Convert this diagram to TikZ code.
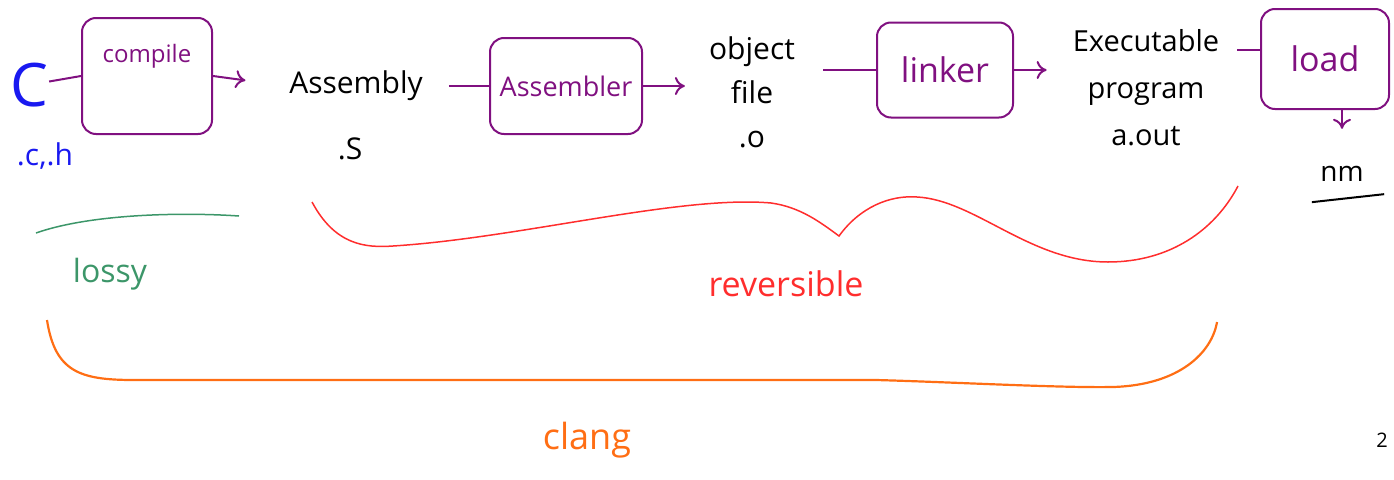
\documentclass[tikz,border=0pt]{standalone}
\usepackage{fontspec}
\setmainfont{Open Sans}
\usetikzlibrary{arrows.meta}

\definecolor{penblue}{RGB}{25,25,240}
\definecolor{penpurple}{RGB}{128,16,128}
\definecolor{pengreen}{RGB}{60,150,105}
\definecolor{penred}{RGB}{255,45,45}
\definecolor{penorange}{RGB}{255,110,20}

\tikzset{
  procbox/.style={draw=penpurple, line width=2pt, rounded corners=14pt, inner sep=0pt},
  proctext/.style={text=penpurple, font=\fontsize{#1}{#1}\selectfont},
  filetext/.style={font=\fontsize{30}{44}\selectfont, align=center, inner sep=2pt},
  flow/.style={draw=penpurple, line width=2pt},
  flowarrow/.style={flow, -{To[length=10pt,width=18pt]}},
}

\begin{document}
\begin{tikzpicture}[x=1pt,y=-1pt]
\useasboundingbox (0,0) rectangle (1394,479);

% Source files
\node[text=penblue, font=\fontsize{60}{60}\selectfont, inner sep=1pt] (src) at (29,85) {C};
\node[text=penblue, font=\fontsize{30}{30}\selectfont] (srcext) at (45,156) {.c,.h};

% Tool boxes
\node[procbox, minimum width=130pt, minimum height=116pt,
      label={[proctext=24, anchor=north, yshift=-24pt]north:compile}] (compile) at (147,76) {};
\node[procbox, minimum width=152pt, minimum height=96pt, proctext=27] (asm) at (566,86) {Assembler};
\node[procbox, minimum width=136pt, minimum height=95pt, proctext=34] (linker) at (945,70) {linker};
\node[procbox, minimum width=128pt, minimum height=100pt, proctext=34] (load) at (1325,59) {load};

% Files in between
\node[font=\fontsize{30}{30}\selectfont, inner sep=2pt] (asmfile) at (356,86) {Assembly};
\node[font=\fontsize{30}{30}\selectfont] (asmext) at (350,149) {.S};
\node[filetext] (objfile) at (752,92) {object\\file\\.o};
\node[filetext, font=\fontsize{29}{47}\selectfont] (exefile) at (1146,88) {Executable\\program\\a.out};
\node[font=\fontsize{28}{28}\selectfont] (mem) at (1342,174) {nm};

% Connectors
\draw[flow] (src) -- (compile.west);
\draw[flowarrow, shorten >=42pt] (compile.east) -- (asmfile.west);
\draw[flow, shorten <=24pt] (asmfile.east) -- (asm.west);
\draw[flowarrow, shorten >=22pt] (asm.east) -- (asm.east -| objfile.west);
\draw[flow, shorten <=26pt] (objfile.east |- linker.west) -- (linker.west);
\draw[flowarrow, shorten >=24pt] (linker.east) -- (linker.east -| exefile.west);
\draw[flow, shorten <=16pt] (exefile.east |- 0,50) -- (load.west |- 0,50);
\draw[flowarrow, shorten >=34pt] (mem.north |- load.south) -- (mem.north);
\draw[line width=2pt] ([xshift=-5pt,yshift=-17pt]mem.south west) -- ([xshift=17pt,yshift=-9pt]mem.south east);

% Lossy part
\draw[pengreen, line width=1.5pt] (36,233) .. controls (90,214) and (180,212) .. (239,216);
\node[text=pengreen, font=\fontsize{32}{32}\selectfont] (lossy) at (110,274) {lossy};

% Reversible part
\draw[penred, line width=1.5pt] (312,202) .. controls (335,245) and (365,248) .. (393,246)
  .. controls (520,238) and (680,195) .. (771,203)
  .. controls (800,207) and (820,222) .. (839,236)
  .. controls (860,207) and (890,195) .. (917,197)
  .. controls (975,200) and (1030,262) .. (1108,262)
  .. controls (1170,262) and (1215,230) .. (1238,186);
\node[text=penred, font=\fontsize{34}{34}\selectfont] (rev) at (786,284) {reversible};

% Whole toolchain
\draw[penorange, line width=2.2pt] (47,320) .. controls (55,372) and (80,380) .. (134,380)
  -- (876,380) .. controls (950,382) and (1060,388) .. (1113,387)
  .. controls (1180,385) and (1212,352) .. (1217,322);
\node[text=penorange, font=\fontsize{36}{36}\selectfont] (clang) at (587,440) {clang};

% Page number
\node[font=\fontsize{20}{20}\selectfont] (page) at (1382,440) {2};

\end{tikzpicture}
\end{document}
